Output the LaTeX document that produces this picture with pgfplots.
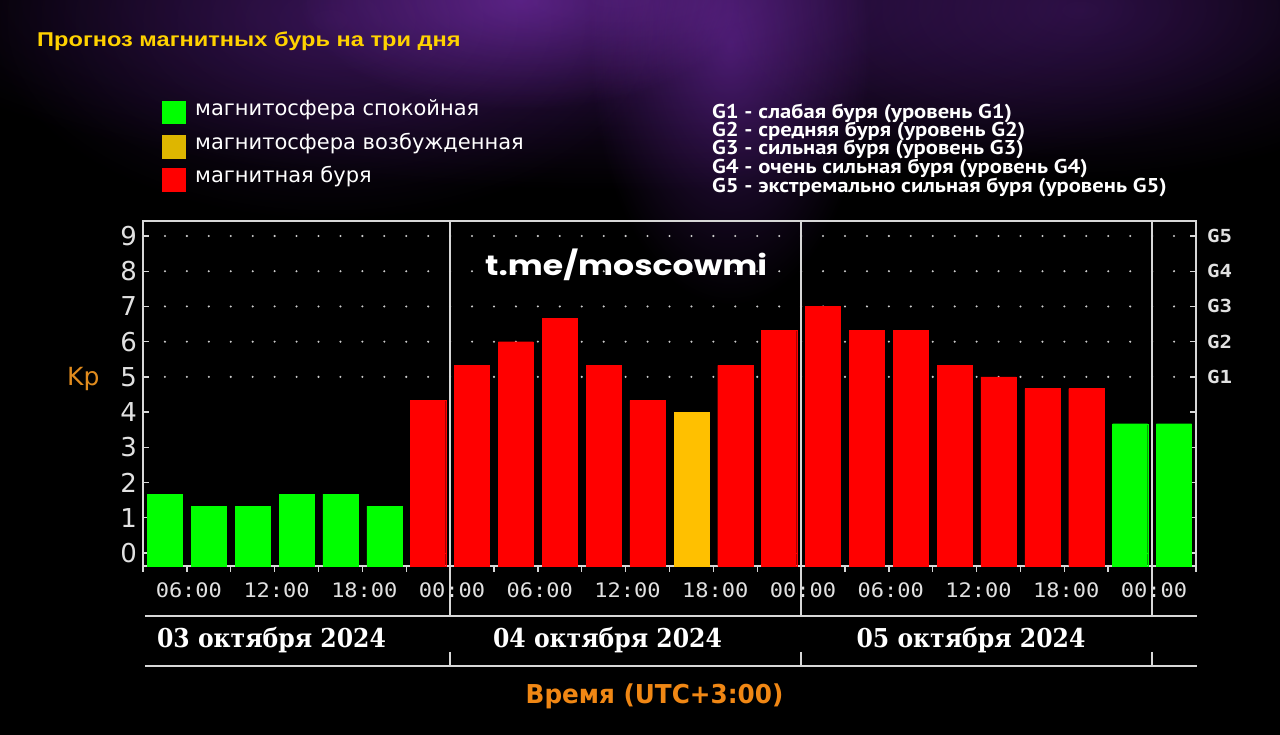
\documentclass[border=0pt]{standalone}
\usepackage{pgfplots}
\pgfplotsset{compat=1.18}
\usepackage{fontspec}
\setmainfont{DejaVu Sans}
\newfontfamily\titlef{Liberation Sans Bold}[FakeStretch=1.18]
\newfontfamily\legf{DejaVu Sans}
\newfontfamily\gf{PT Sans Bold}[FakeStretch=1.13]
\newfontfamily\monof{DejaVu Sans Mono}[FakeStretch=1.1]
\newfontfamily\gmonof{DejaVu Sans Mono Bold}[FakeStretch=1.15]
\newfontfamily\datef{DejaVu Serif Bold}[FakeStretch=0.905]
\newfontfamily\timef{DejaVu Sans Bold}[FakeStretch=0.95]
\newfontfamily\popf{Poppins Bold}[FakeStretch=1.18]

\definecolor{gridc}{RGB}{205,205,205}
\definecolor{linec}{RGB}{215,215,215}
\definecolor{ticklab}{RGB}{225,225,225}
\definecolor{titlec}{RGB}{255,210,0}
\definecolor{orangec}{RGB}{240,135,20}
\definecolor{kpc}{RGB}{225,140,30}
\definecolor{barG}{RGB}{0,255,0}
\definecolor{barY}{RGB}{255,192,0}
\definecolor{barR}{RGB}{255,0,0}
\definecolor{legY}{RGB}{222,182,0}
\definecolor{nebA}{RGB}{40,13,64}
\definecolor{nebB}{RGB}{52,18,82}
\definecolor{nebC}{RGB}{30,10,48}

\begin{document}
\begin{tikzpicture}[x=1pt,y=1pt]
\useasboundingbox (0,0) rectangle (1280,735);
\fill[black] (0,0) rectangle (1280,735);
\begin{scope}
\clip (0,0) rectangle (1280,735);
\shade[blend mode=screen, inner color=nebA, outer color=black] (620,735) ellipse [x radius=760, y radius=190];
\shade[blend mode=screen, inner color=nebB, outer color=black] (730,690) ellipse [x radius=140, y radius=260];
\shade[blend mode=screen, inner color=nebB, outer color=black] (520,735) ellipse [x radius=220, y radius=110];
\shade[blend mode=screen, inner color=nebC, outer color=black] (1080,725) ellipse [x radius=360, y radius=170];
\shade[blend mode=screen, inner color=nebC, outer color=black] (330,715) ellipse [x radius=340, y radius=200];
\end{scope}

% title
\node[anchor=base west, inner sep=0pt, text=titlec, font=\titlef\fontsize{20}{22}\selectfont] at (37,688.3) {Прогноз магнитных бурь на три дня};

% legend
\fill[barG] (162,634) rectangle (186,611);
\fill[legY] (162,600) rectangle (186,576);
\fill[barR] (162,567) rectangle (186,543);
\begin{scope}[every node/.style={anchor=mid west, inner sep=0pt, text=white, font=\legf\fontsize{21}{24}\selectfont}]
\node at (195,622.5) {магнитосфера спокойная};
\node at (195,588) {магнитосфера возбужденная};
\node at (195,555) {магнитная буря};
\end{scope}
\begin{scope}[every node/.style={anchor=base west, inner sep=0pt, text=white, font=\gf\fontsize{20}{22}\selectfont}]
\node at (712,616.7) {G1 - слабая буря (уровень G1)};
\node at (712,598.3) {G2 - средняя буря (уровень G2)};
\node at (712,580) {G3 - сильная буря (уровень G3)};
\node at (712,561.7) {G4 - очень сильная буря (уровень G4)};
\node at (712,542.7) {G5 - экстремально сильная буря (уровень G5)};
\end{scope}

\begin{axis}[
  at={(143pt,169pt)}, anchor=south west, scale only axis,
  width=1053pt, height=345pt,
  xmin=3, xmax=75, ymin=-0.369, ymax=9.426,
  clip=false,
  axis line style={linec, line width=1.6pt},
  tick style={linec, line width=1.4pt},
  tick align=inside,
  major tick length=6pt,
  xtick pos=bottom,
  ytick pos=both, yticklabel pos=left,
  xtick={3,6,...,75},
  xticklabels={{},06:00,{},12:00,{},18:00,{},00:00,{},06:00,{},12:00,{},18:00,{},00:00,{},06:00,{},12:00,{},18:00,{},00:00,{}},
  xtick style={yshift=-6pt},
  xticklabel style={anchor=center, inner sep=0pt, yshift=-24pt, xshift=2pt, text=ticklab, font=\monof\fontsize{20}{20}\selectfont},
  ytick={0,1,2,3,4,5,6,7,8,9},
  yticklabels={0,1,2,3,4,5,6,7,8,9},
  yticklabel style={anchor=east, inner sep=0pt, xshift=-6pt, text=ticklab, font=\fontsize{26}{26}\selectfont},
  extra y ticks={5,6,7,8,9},
  extra y tick labels={},
  extra y tick style={grid=major, major grid style={gridc, line width=2.3pt, line cap=round, dash pattern=on 0pt off 21.9375pt}},
]
% base part of the bars (from the frame down to 0)
\addplot[ybar, bar width=2.4, bar shift=0pt, fill=barG, draw=barG, line width=0.3pt] coordinates {(4.5,-0.369) (7.5,-0.369) (10.5,-0.369) (13.5,-0.369) (16.5,-0.369) (19.5,-0.369) (70.5,-0.369) (73.5,-0.369)};
\addplot[ybar, bar width=2.4, bar shift=0pt, fill=barY, draw=barY, line width=0.3pt] coordinates {(40.5,-0.369)};
\addplot[ybar, bar width=2.4, bar shift=0pt, fill=barR, draw=barR, line width=0.3pt] coordinates {(22.5,-0.369) (25.5,-0.369) (28.5,-0.369) (31.5,-0.369) (34.5,-0.369) (37.5,-0.369) (43.5,-0.369) (46.5,-0.369) (49.5,-0.369) (52.5,-0.369) (55.5,-0.369) (58.5,-0.369) (61.5,-0.369) (64.5,-0.369) (67.5,-0.369)};
% Kp values
\addplot[ybar, bar width=2.4, bar shift=0pt, fill=barG, draw=barG, line width=0.3pt] coordinates {(4.5,1.67) (7.5,1.33) (10.5,1.33) (13.5,1.67) (16.5,1.67) (19.5,1.33) (70.5,3.67) (73.5,3.67)};
\addplot[ybar, bar width=2.4, bar shift=0pt, fill=barY, draw=barY, line width=0.3pt] coordinates {(40.5,4.00)};
\addplot[ybar, bar width=2.4, bar shift=0pt, fill=barR, draw=barR, line width=0.3pt] coordinates {(22.5,4.33) (25.5,5.33) (28.5,6.00) (31.5,6.67) (34.5,5.33) (37.5,4.33) (43.5,5.33) (46.5,6.33) (49.5,7.00) (52.5,6.33) (55.5,6.33) (58.5,5.33) (61.5,5.00) (64.5,4.67) (67.5,4.67)};
% day boundaries
\draw[linec, line width=1.6pt] (axis cs:24,9.426) -- (axis cs:24,-1.789);
\draw[linec, line width=1.6pt] (axis cs:48,9.426) -- (axis cs:48,-1.789);
\draw[linec, line width=1.6pt] (axis cs:72,9.426) -- (axis cs:72,-1.789);
\end{axis}

\begin{axis}[
  at={(143pt,169pt)}, anchor=south west, scale only axis,
  width=1053pt, height=345pt,
  xmin=3, xmax=75, ymin=-0.369, ymax=9.426,
  hide x axis,
  axis y line*=right,
  axis line style={draw=none},
  ytick={5,6,7,8,9},
  yticklabels={G1,G2,G3,G4,G5},
  ytick style={draw=none},
  yticklabel style={anchor=west, inner sep=0pt, xshift=11pt, text=ticklab, font=\gmonof\fontsize{18}{18}\selectfont},
]
\end{axis}

% watermark
\node[anchor=base west, inner sep=0pt, text=white, font=\popf\fontsize{28}{30}\selectfont] at (485,459.3) {t.me/moscowmi};

% Kp label
\node[anchor=base west, inner sep=0pt, text=kpc, font=\fontsize{25}{26}\selectfont] at (67,349) {Kp};

% date rows
\draw[linec, line width=1.6pt] (145,119) -- (1197,119);
\draw[linec, line width=1.6pt] (145,69) -- (1197,69);
\foreach \xx in {450.1,801.1,1152.1} \draw[linec, line width=1.6pt] (\xx,83) -- (\xx,69);
\begin{scope}[every node/.style={anchor=base, inner sep=0pt, text=white, font=\datef\fontsize{26}{28}\selectfont}]
\node at (271.5,87) {03 октября 2024};
\node at (607.5,87) {04 октября 2024};
\node at (971,87) {05 октября 2024};
\end{scope}
\node[anchor=base, inner sep=0pt, text=orangec, font=\timef\fontsize{26}{28}\selectfont] at (654.5,31) {Время (UTC+3:00)};
\end{tikzpicture}
\end{document}
